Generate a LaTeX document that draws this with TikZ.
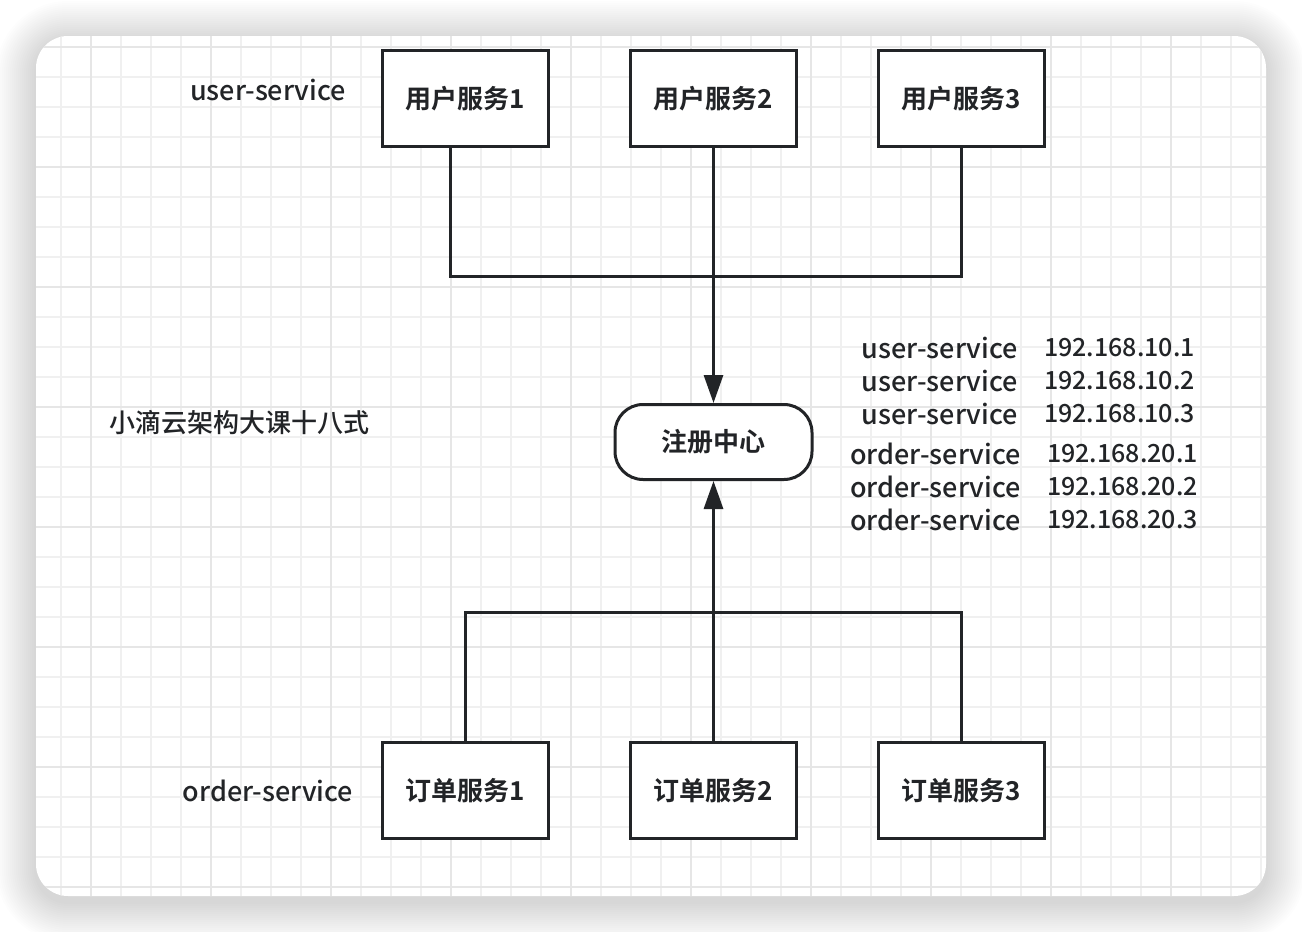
\documentclass[tikz,border=0pt]{standalone}
\usepackage{fontspec}
\setmainfont{Noto Sans CJK SC}
\newfontfamily\boxfont{Noto Sans CJK SC Bold}
\newfontfamily\medfont{Noto Sans CJK SC Medium}
\usetikzlibrary{arrows.meta, positioning, calc}

\definecolor{inkc}{HTML}{222427}
\definecolor{gridc}{HTML}{F0F0F0}
\definecolor{gridm}{HTML}{E6E6E6}

\begin{document}
\begin{tikzpicture}[
    x=1pt, y=-1pt,
    service/.style={rectangle, draw=inkc, line width=3pt, fill=white, minimum width=166pt, minimum height=96pt, inner sep=0pt, font=\fontsize{26}{30}\boxfont, text=inkc},
    registry/.style={rectangle, rounded corners=28pt, draw=inkc, line width=3pt, fill=white, minimum width=197pt, minimum height=75pt, inner sep=0pt, font=\fontsize{26}{30}\boxfont, text=inkc},
    label/.style={inner sep=0pt, font=\fontsize{27}{33}\medfont, text=inkc},
    iplist/.style={inner sep=0pt, font=\fontsize{25}{33}\medfont, text=inkc},
    link/.style={-, line width=3pt, draw=inkc},
    arrow/.style={-{Triangle[length=28pt, width=19pt]}, line width=3pt, draw=inkc}
]

% Card, shadow and grid
\useasboundingbox (0,0) rectangle (1302,932);
\fill[white] (0,0) rectangle (1302,932);
\foreach \i in {1,...,20}
    \fill[black, opacity=0.008, rounded corners=32+\i*2] (36-\i*2,41-\i*2) rectangle (1266+\i*2,902+\i*2);
\fill[white, rounded corners=32pt] (36,36) rectangle (1266,896);
\begin{scope}
    \clip[rounded corners=32pt] (36,36) rectangle (1266,896);
    \foreach \k in {1,...,41}
        \draw[gridc, line width=2pt] (30.7+\k*30,36) -- (30.7+\k*30,896);
    \foreach \k in {0,...,28}
        \draw[gridc, line width=2pt] (36,46.7+\k*30) -- (1266,46.7+\k*30);
    \foreach \k in {0,...,9}
        \draw[gridm, line width=2pt] (90.7+\k*120,36) -- (90.7+\k*120,896);
    \foreach \k in {0,...,7}
        \draw[gridm, line width=2pt] (36,46.7+\k*120) -- (1266,46.7+\k*120);
\end{scope}

% Services & Registry Layout
\node[service] (user1) at (465.5, 98.5) {用户服务1};
\node[service] (user2) at (713.5, 98.5) {用户服务2};
\node[service] (user3) at (961.5, 98.5) {用户服务3};
\node[registry] (reg) at (713.5, 442) {注册中心};
\node[service] (order1) at (465.5, 790.5) {订单服务1};
\node[service] (order2) at (713.5, 790.5) {订单服务2};
\node[service] (order3) at (961.5, 790.5) {订单服务3};

% Paths
\coordinate (userjoin) at (713.5, 276);
\coordinate (orderjoin) at (713.5, 612);
\draw[link] ([xshift=-15.5pt]user1.south) |- (userjoin) -| (user3.south);
\draw[arrow] (user2.south) -- (reg.north);
\draw[link] (order1.north) |- (orderjoin) -| (order3.north);
\draw[arrow] (order2.north) -- (reg.south);

% Labels
\node[label] (user_lbl) at (268, 90) {user-service};
\node[label] (order_lbl) at (268, 791) {order-service};
\node[iplist, font=\fontsize{26}{33}\medfont] (course_lbl) at (239, 423) {小滴云架构大课十八式};
\node[label, align=right, anchor=east] (user_names) at (1018, 381) {user-service\\user-service\\user-service};
\node[iplist, align=left, anchor=west] (user_ips) at (1044, 381) {192.168.10.1\\192.168.10.2\\192.168.10.3};
\node[label, align=right, anchor=east] (order_names) at (1021, 487) {order-service\\order-service\\order-service};
\node[iplist, align=left, anchor=west] (order_ips) at (1047, 487) {192.168.20.1\\192.168.20.2\\192.168.20.3};

\end{tikzpicture}
\end{document}
